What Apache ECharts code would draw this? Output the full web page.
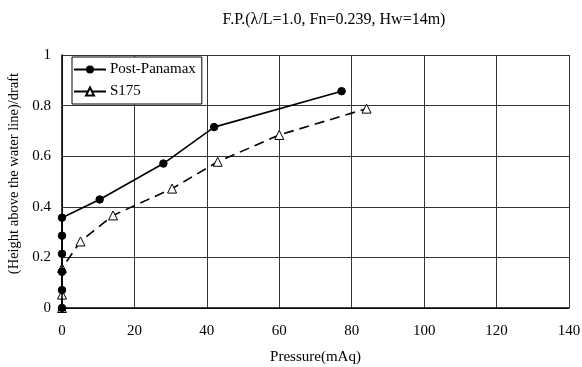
<!DOCTYPE html>
<html>
<head>
<meta charset="utf-8">
<script src="https://cdn.jsdelivr.net/npm/echarts@6/dist/echarts.min.js"></script>
<style>html,body{margin:0;padding:0;background:#fff}#c{width:582px;height:367px}</style>
</head>
<body>
<div id="c"></div>
<script>
var titleText = 'F.P.(\u03BB/L=1.0, Fn=0.239, Hw=14m)';
var seriesNames = ['Post-Panamax', 'S175'];
var ppX = [0, 0, 0, 0, 0, 0, 10.4, 28.0, 42.0, 77.2];
var ppY = [0, 0.071, 0.143, 0.214, 0.286, 0.357, 0.429, 0.571, 0.715, 0.857];
var s175X = [0, 0, 0, 5.1, 14.1, 30.4, 43.0, 60.0, 84.1];
var s175Y = [0, 0.053, 0.158, 0.263, 0.366, 0.472, 0.578, 0.684, 0.788];
var xTicks = [0, 20, 40, 60, 80, 100, 120, 140];
var yTicks = [0, 0.2, 0.4, 0.6, 0.8, 1];
var xName = 'Pressure(mAq)';
var yName = '(Height above the water line)/draft';

function pairs(xs, ys) { return xs.map(function (x, i) { return [x, ys[i]]; }); }
var font = "'Liberation Serif','Times New Roman',serif";

var chart = echarts.init(document.getElementById('c'), null, {renderer: 'canvas'});
chart.setOption({
  animation: false,
  backgroundColor: '#fff',
  textStyle: {fontFamily: font, color: '#000'},
  title: {
    text: titleText, left: 329, top: 7, textAlign: 'center',
    textStyle: {fontFamily: font, fontSize: 16, fontWeight: 'normal', color: '#000'}
  },
  grid: {left: 62, right: 13, top: 55, bottom: 59, containLabel: false, outerBoundsMode: 'none'},
  legend: {
    orient: 'vertical', left: 72, top: 57,
    padding: [5, 6, 5, 1], itemGap: 7, itemWidth: 32, itemHeight: 10,
    backgroundColor: '#fff', borderColor: '#000', borderWidth: 1, borderRadius: 0,
    textStyle: {fontFamily: font, fontSize: 15, color: '#000', padding: [0, 0, 0, -1]},
    data: [
      {name: seriesNames[0]},
      {name: seriesNames[1], lineStyle: {type: 'solid'}}
    ]
  },
  xAxis: {
    type: 'value', min: xTicks[0], max: xTicks[xTicks.length - 1], interval: 20,
    name: xName, nameLocation: 'middle', nameGap: 42,
    nameTextStyle: {fontFamily: font, fontSize: 15, color: '#000'},
    axisLine: {show: true, lineStyle: {color: '#000', width: 1.5}},
    axisTick: {show: false},
    axisLabel: {fontFamily: font, fontSize: 15, color: '#000', margin: 16},
    splitLine: {show: true, lineStyle: {color: '#333', width: 1}}
  },
  yAxis: {
    type: 'value', min: yTicks[0], max: yTicks[yTicks.length - 1], interval: 0.2,
    name: yName, nameLocation: 'middle', nameGap: 40, nameRotate: 90,
    nameTextStyle: {fontFamily: font, fontSize: 14.5, color: '#000', padding: [0, 0, 0, 16]},
    axisLine: {show: true, lineStyle: {color: '#000', width: 1.5}},
    axisTick: {show: false},
    axisLabel: {fontFamily: font, fontSize: 15, color: '#000', margin: 11,
      formatter: function (v) { return String(Math.round(v * 10) / 10); }},
    splitLine: {show: true, lineStyle: {color: '#333', width: 1}}
  },
  series: [
    {
      name: seriesNames[0], type: 'line', data: pairs(ppX, ppY),
      symbol: 'circle', symbolSize: 7.5, showAllSymbol: true,
      lineStyle: {color: '#000', width: 1.6, type: 'solid'},
      itemStyle: {color: '#000', borderColor: '#000'}, z: 3
    },
    {
      name: seriesNames[1], type: 'line', data: pairs(s175X, s175Y),
      symbol: 'triangle', symbolSize: 9, showAllSymbol: true,
      lineStyle: {color: '#000', width: 1.6, type: [10, 6]},
      itemStyle: {color: '#fff', borderColor: '#000', borderWidth: 1}, z: 2
    }
  ]
});
</script>
</body>
</html>
